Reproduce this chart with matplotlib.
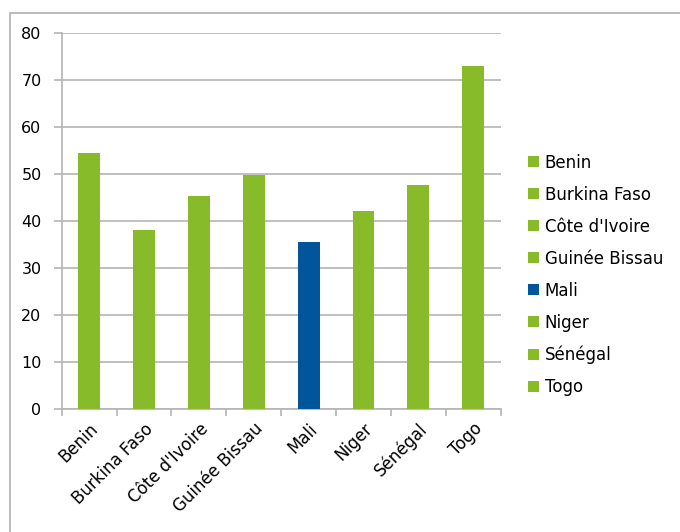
import matplotlib
matplotlib.use("Agg")
import matplotlib.pyplot as plt
from matplotlib.patches import Patch, Rectangle

countries = ["Benin", "Burkina Faso", "Côte d'Ivoire", "Guinée Bissau",
             "Mali", "Niger", "Sénégal", "Togo"]
values = [54.4, 38.1, 45.3, 49.8, 35.6, 42.0, 47.7, 73.0]
highlight = "Mali"
yticks = [0, 10, 20, 30, 40, 50, 60, 70, 80]

green = "#88BB2A"
blue = "#00559B"
grid_c = "#B4B4B4"
colors = [blue if c == highlight else green for c in countries]

plt.rcParams['font.family'] = ['DejaVu Sans']
fs = 12
fs_y = 11.5

fig = plt.figure(figsize=(6.8, 5.32), dpi=100)
fig.patch.set_facecolor("white")
# outer chart border (cropped)
fig.patches.append(Rectangle((10/680, -0.1), 1.2, (532-13)/532 + 0.1,
                             transform=fig.transFigure, fill=False,
                             edgecolor="#B0B0B0", linewidth=1.2))

ax = fig.add_axes([61.7/680, (532-408.7)/532, 439/680, 375.7/532])
x = list(range(len(countries)))
ax.bar(x, values, width=0.4, color=colors, zorder=3)
ax.set_xlim(-0.5, len(countries) - 0.5)
ax.set_ylim(0, 80)
ax.set_yticks(yticks)
ax.set_yticklabels([str(v) for v in yticks], fontsize=fs_y, color="black")
ax.yaxis.grid(True, color=grid_c, linewidth=1.2, zorder=0)
ax.set_axisbelow(True)

ax.set_xticks(x)
ax.set_xticklabels(countries, rotation=45, ha="right", rotation_mode="anchor",
                   fontsize=fs, color="black")
ax.tick_params(axis="x", which="major", length=0, pad=8)
ax.set_xticks([i - 0.5 for i in range(len(countries) + 1)], minor=True)
ax.tick_params(axis="x", which="minor", length=5, color=grid_c, width=1.2)
ax.tick_params(axis="y", length=5.5, color=grid_c, width=1.2, pad=9)

for s in ["top", "right"]:
    ax.spines[s].set_visible(False)
for s in ["left", "bottom"]:
    ax.spines[s].set_color(grid_c)
    ax.spines[s].set_linewidth(1.2)

handles = [Patch(facecolor=c, edgecolor="none") for c in colors]
fig.legend(handles, countries, loc="center left",
           bbox_to_anchor=(528/680, 1 - 275/532), frameon=False,
           fontsize=fs, handlelength=0.65, handleheight=0.65,
           handletextpad=0.35, labelspacing=0.84, borderpad=0, borderaxespad=0)

fig.savefig("out.png", dpi=100, facecolor="white")
